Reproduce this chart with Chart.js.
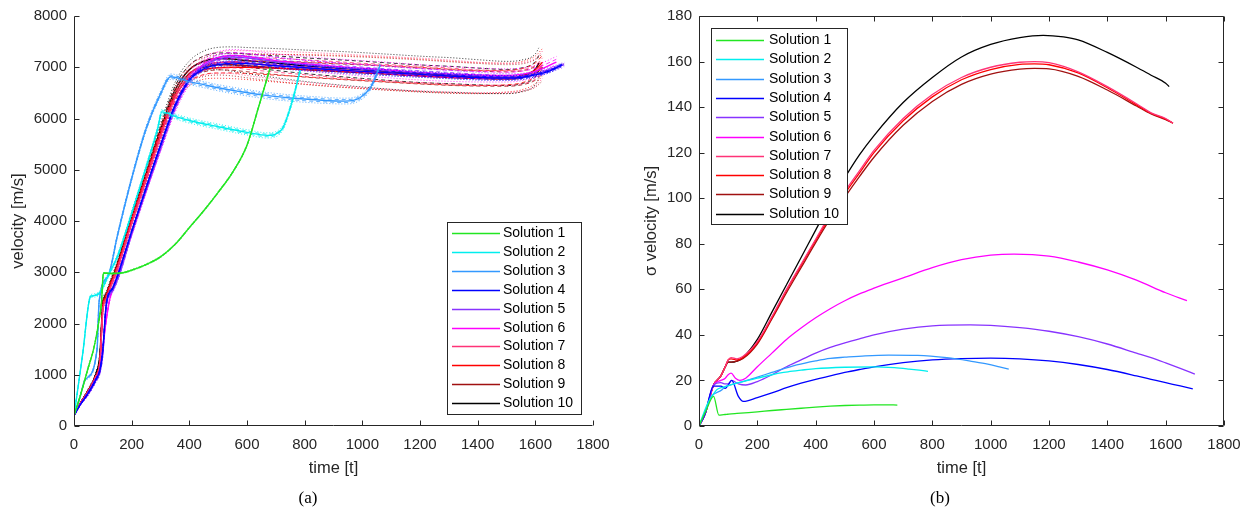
<!DOCTYPE html>
<html>
<head>
<meta charset="utf-8">
<script src="https://cdn.jsdelivr.net/npm/chart.js@4"></script>
<style>
body{margin:0;background:#fff;width:1253px;height:512px;position:relative;overflow:hidden}
canvas{position:absolute;top:0}
#cA{left:0}
#cB{left:620px}
.cap{position:absolute;top:488px;font:17px "Liberation Serif",serif;color:#000;transform:translateX(-50%)}
</style>
</head>
<body>
<canvas id="cA" width="620" height="512"></canvas>
<canvas id="cB" width="633" height="512"></canvas>
<div class="cap" style="left:308px">(a)</div>
<div class="cap" style="left:940px">(b)</div>
<script>
// time grids, mean velocity [m/s] and sigma velocity [m/s] per solution
const t1 = [0, 25, 50, 68, 85, 95, 102, 130, 170, 200, 250, 300, 350, 400, 450, 500, 550, 600, 640, 680];
const v1 = [200, 650, 1150, 1500, 2000, 2400, 2985, 2975, 2990, 3040, 3150, 3300, 3540, 3870, 4200, 4560, 4950, 5480, 6220, 6980];
const s1 = [0, 7, 13, 4.8, 5.0, 5.1, 5.2, 5.5, 5.9, 6.2, 6.8, 7.3, 7.8, 8.3, 8.7, 9.0, 9.2, 9.3, 9.3, 9.2];

const t2 = [0, 30, 55, 62, 80, 95, 120, 150, 200, 250, 290, 305, 350, 400, 500, 600, 670, 720, 755, 785];
const v2 = [200, 1400, 2500, 2540, 2560, 2650, 2950, 3300, 4150, 5050, 5800, 6130, 6040, 5960, 5840, 5730, 5670, 5780, 6300, 6950];
const s2 = [0, 10, 15, 16, 17, 17.5, 18.5, 19.5, 21, 22.5, 23.5, 23.8, 24.5, 25.2, 25.8, 26, 25.6, 25, 24.5, 24];

const t3 = [0, 20, 38, 42, 80, 87, 120, 150, 200, 250, 300, 335, 400, 450, 500, 570, 650, 750, 850, 940, 990, 1030, 1062];
const v3 = [200, 550, 900, 920, 1500, 2420, 2950, 3700, 4830, 5800, 6480, 6815, 6720, 6660, 6600, 6530, 6460, 6400, 6360, 6340, 6400, 6620, 7040];
const s3 = [0, 6, 12, 13, 16, 17, 18.5, 19.5, 21.5, 23.5, 25.5, 26.8, 28.6, 29.7, 30.2, 30.8, 31.1, 31, 30, 28.3, 27.2, 26, 25];

const t4 = [0, 20, 50, 75, 90, 100, 112, 135, 152, 200, 250, 300, 350, 400, 450, 500, 550, 600, 700, 800, 900, 1000, 1100, 1200, 1300, 1400, 1500, 1550, 1600, 1650, 1693];
const v4 = [200, 400, 650, 900, 1100, 1500, 2380, 2700, 2950, 3800, 4650, 5480, 6250, 6750, 6970, 7050, 7080, 7070, 7030, 6990, 6950, 6920, 6890, 6860, 6830, 6800, 6790, 6800, 6850, 6930, 7050];
const s4 = [0, 5, 17.5, 17.5, 16.5, 18, 20, 13, 10.8, 12.5, 14.5, 16.8, 18.8, 20.5, 22, 23.5, 24.8, 26, 27.8, 29, 29.6, 29.8, 29.5, 28.6, 27, 24.8, 22, 20.5, 19, 17.6, 16.3];

const t5 = [0, 20, 50, 75, 90, 100, 112, 135, 160, 200, 250, 300, 350, 400, 450, 500, 550, 600, 700, 800, 930, 1000, 1100, 1200, 1300, 1400, 1500, 1550, 1600, 1650, 1700];
const v5 = [200, 400, 640, 880, 1050, 1400, 2350, 2650, 3000, 3750, 4600, 5420, 6200, 6750, 7030, 7160, 7200, 7180, 7110, 7050, 6990, 6960, 6920, 6890, 6860, 6830, 6810, 6820, 6870, 6950, 7050];
const s5 = [0, 5, 18, 19, 18.5, 18.5, 20, 18.5, 18, 19.5, 22.5, 26, 29, 32, 34.5, 36.5, 38.3, 40, 42.5, 44, 44.4, 44.2, 43.2, 41.6, 39.2, 36, 32, 30, 27.7, 25.3, 22.8];

const t6 = [0, 20, 50, 75, 90, 100, 110, 125, 140, 160, 200, 250, 300, 350, 400, 450, 500, 550, 600, 650, 700, 800, 900, 1000, 1080, 1200, 1300, 1400, 1500, 1600, 1673];
const v6 = [200, 400, 640, 900, 1100, 1500, 2000, 2500, 2750, 3080, 3750, 4600, 5420, 6200, 6750, 7060, 7190, 7230, 7210, 7170, 7130, 7070, 7020, 6980, 6950, 6900, 6870, 6850, 6840, 6920, 7100];
const s6 = [0, 5, 18, 20, 21, 22.5, 23.2, 21, 20, 21, 26, 32, 38, 43, 47.5, 51.5, 55, 58, 60.5, 62.8, 65, 69.5, 73, 75, 75.5, 74.6, 72, 68.5, 64, 58.5, 55];

const t7 = [0, 20, 50, 75, 90, 100, 110, 130, 150, 200, 250, 300, 350, 400, 450, 500, 550, 600, 700, 800, 900, 1000, 1100, 1150, 1200, 1300, 1400, 1500, 1550, 1600, 1625];
const v7 = [200, 420, 680, 950, 1250, 2250, 2450, 2750, 3050, 3950, 4800, 5650, 6400, 6850, 7030, 7090, 7100, 7080, 7040, 7000, 6960, 6920, 6890, 6870, 6860, 6830, 6800, 6790, 6810, 6900, 7050];
const s7 = [0, 5, 18, 22, 26, 29, 30, 29.5, 30.5, 37, 48, 60, 71, 82, 93, 103, 112, 121, 135, 145.5, 153, 157.5, 159.7, 160, 159.5, 155.5, 149, 141.5, 137.5, 135, 133];

const t8 = t7;
const v8 = [200, 420, 680, 950, 1250, 2300, 2500, 2800, 3100, 4000, 4850, 5700, 6420, 6800, 6950, 6990, 7000, 7000, 6980, 6960, 6930, 6900, 6870, 6855, 6840, 6810, 6790, 6800, 6830, 6950, 7100];
const s8 = [0, 5, 18, 22, 26, 29, 29.5, 29, 30, 36.5, 47.5, 59.5, 70.5, 81.5, 92, 102, 111, 120, 134, 144.5, 152, 156.5, 158.8, 159, 158.6, 155, 148.5, 141, 137.3, 134.7, 133];

const t9 = t7;
const v9 = [200, 420, 690, 970, 1300, 2350, 2520, 2820, 3120, 4030, 4880, 5720, 6480, 6880, 7000, 7050, 7050, 7030, 6990, 6950, 6920, 6890, 6860, 6845, 6830, 6800, 6780, 6770, 6790, 6880, 7000];
const s9 = [0, 5, 18, 22, 26, 28, 28, 28.5, 29.5, 36, 47, 58.5, 69.5, 80.5, 91, 100.5, 109.5, 118, 132, 142.5, 150, 154.5, 156.7, 157, 156.8, 153.5, 147.5, 140.5, 137, 134.5, 133];

const t10 = [0, 20, 50, 75, 90, 100, 110, 130, 150, 200, 250, 300, 350, 400, 450, 500, 550, 600, 700, 800, 900, 1000, 1100, 1180, 1250, 1300, 1400, 1500, 1550, 1600, 1612];
const v10 = [200, 430, 700, 1000, 1400, 2400, 2550, 2850, 3150, 4090, 4920, 5780, 6550, 6950, 7120, 7170, 7160, 7130, 7080, 7030, 6990, 6950, 6910, 6880, 6860, 6850, 6820, 6800, 6830, 6960, 7080];
const s10 = [0, 5, 18, 22, 26, 28, 28, 28.5, 30, 38, 50, 62, 74, 86, 98, 109, 119, 127.5, 142, 153, 162, 167.5, 170.5, 171.5, 170.8, 169.5, 164, 157.5, 154, 150.5, 149];

const names = ['Solution 1', 'Solution 2', 'Solution 3', 'Solution 4', 'Solution 5', 'Solution 6', 'Solution 7', 'Solution 8', 'Solution 9', 'Solution 10'];
const colors = ['#22e622', '#00eeee', '#3399ff', '#0000ff', '#8833ff', '#ff00ff', '#ff3377', '#ff0000', '#a01010', '#000000'];
const xTicksMax = 1800, xStep = 200;

const times = [t1, t2, t3, t4, t5, t6, t7, t8, t9, t10];
const vel = [v1, v2, v3, v4, v5, v6, v7, v8, v9, v10];
const sig = [s1, s2, s3, s4, s5, s6, s7, s8, s9, s10];

Chart.defaults.font.family = '"Liberation Sans", Arial, sans-serif';
Chart.defaults.color = '#262626';

// MATLAB style axes: inward ticks, optional full box
const mAxes = {
    id: 'mAxes',
    afterDatasetsDraw(chart, args, o) {
        const {ctx, chartArea: a} = chart;
        const sx = chart.scales.x, sy = chart.scales.y, L = 5;
        const l = Math.round(a.left) + 0.5, r = Math.round(a.right) - 0.5;
        const tp = Math.round(a.top) + 0.5, b = Math.round(a.bottom) - 0.5;
        ctx.save();
        ctx.strokeStyle = '#262626';
        ctx.lineWidth = 1;
        ctx.beginPath();
        ctx.moveTo(l, tp); ctx.lineTo(l, b); ctx.lineTo(r, b);
        if (o.box) { ctx.lineTo(r, tp); ctx.lineTo(l, tp); }
        sx.ticks.forEach(tk => {
            const px = Math.round(sx.getPixelForValue(tk.value)) + 0.5;
            ctx.moveTo(px, b); ctx.lineTo(px, b - L);
            if (o.box) { ctx.moveTo(px, tp); ctx.lineTo(px, tp + L); }
        });
        sy.ticks.forEach(tk => {
            const py = Math.round(sy.getPixelForValue(tk.value)) + 0.5;
            ctx.moveTo(l, py); ctx.lineTo(l + L, py);
            if (o.box) { ctx.moveTo(r, py); ctx.lineTo(r - L, py); }
        });
        ctx.stroke();
        ctx.restore();
    }
};

// legend box inside the plot area
const boxLegend = {
    id: 'boxLegend',
    afterDraw(chart, args, o) {
        const {ctx, chartArea: a} = chart;
        const items = chart.data.datasets.filter(d => d.label);
        const x0 = Math.round(o.corner === 'br' ? a.right - o.inset - o.w : a.left + o.inset);
        const y0 = Math.round(o.corner === 'br' ? a.bottom - o.inset - o.h : a.top + o.inset);
        ctx.save();
        ctx.fillStyle = '#fff';
        ctx.fillRect(x0, y0, o.w, o.h);
        ctx.strokeStyle = '#262626';
        ctx.lineWidth = 1;
        ctx.strokeRect(x0 + 0.5, y0 + 0.5, o.w, o.h);
        ctx.font = '14px "Liberation Sans", Arial, sans-serif';
        ctx.textBaseline = 'middle';
        items.forEach((d, i) => {
            const y = Math.round(y0 + o.first + i * o.rowH) + 0.5;
            ctx.strokeStyle = d.borderColor;
            ctx.lineWidth = 1.3;
            ctx.beginPath(); ctx.moveTo(x0 + 5, y); ctx.lineTo(x0 + 53, y); ctx.stroke();
            ctx.fillStyle = '#000';
            ctx.fillText(d.label, x0 + o.textX, y);
        });
        ctx.restore();
    }
};

function velSets() {
    const out = [];
    for (let i = 0; i < 10; i++) {
        const pts = k => times[i].map((t, j) => ({x: t, y: vel[i][j] + k * sig[i][j]}));
        const band = (k, dash) => ({label: '', data: pts(k), borderColor: colors[i], borderWidth: 0.8, borderDash: dash, pointRadius: 0, cubicInterpolationMode: 'monotone'});
        out.push(band(-2, [1, 2]), band(-1, [4, 3]));
        out.push({label: names[i], data: pts(0), borderColor: colors[i], borderWidth: 1.4, pointRadius: 0, cubicInterpolationMode: 'monotone'});
        out.push(band(1, [4, 3]), band(2, [1, 2]));
    }
    return out;
}

function sigSets() {
    return names.map((n, i) => ({
        label: n,
        data: times[i].map((t, j) => ({x: t, y: sig[i][j]})),
        borderColor: colors[i], borderWidth: 1.3, pointRadius: 0, cubicInterpolationMode: 'monotone'
    }));
}

function mkOpts(cfg) {
    return {
        responsive: false, animation: false,
        layout: {padding: cfg.pad},
        plugins: {legend: {display: false}, tooltip: {enabled: false}, mAxes: {box: cfg.box}, boxLegend: cfg.legend},
        scales: {
            x: {
                type: 'linear', min: 0, max: xTicksMax,
                grid: {display: false, drawTicks: false}, border: {display: false},
                ticks: {stepSize: xStep, padding: 10, font: {size: 15}, color: '#262626', callback: v => String(v)},
                title: {display: true, text: 'time [t]', font: {size: 16.5}, color: '#262626', padding: {top: 0, bottom: 3}},
                afterFit: s => { s.height = 55; }
            },
            y: {
                type: 'linear', min: cfg.yMin, max: cfg.yMax,
                grid: {display: false, drawTicks: false}, border: {display: false},
                ticks: {stepSize: cfg.yStep, padding: 7, font: {size: 15}, color: '#262626', callback: v => String(v)},
                title: {display: true, text: cfg.yTitle, font: {size: 16.5}, color: '#262626', padding: {top: cfg.titlePad, bottom: 0}},
                afterFit: s => { s.width = cfg.yWidth; }
            }
        }
    };
}

new Chart(document.getElementById('cA'), {
    type: 'line',
    data: {datasets: velSets()},
    options: mkOpts({
        pad: {left: 0, right: 27, top: 16, bottom: 31},
        box: false, yMin: 0, yMax: 8000, yStep: 1000, yTitle: 'velocity [m/s]', titlePad: 9, yWidth: 74,
        legend: {corner: 'br', inset: 12, w: 134, h: 192, first: 11, rowH: 18.9, textX: 56}
    }),
    plugins: [mAxes, boxLegend]
});

new Chart(document.getElementById('cB'), {
    type: 'line',
    data: {datasets: sigSets()},
    options: mkOpts({
        pad: {left: 0, right: 29, top: 11, bottom: 31},
        box: true, yMin: 0, yMax: 180, yStep: 20, yTitle: 'σ velocity [m/s]', titlePad: 22, yWidth: 79,
        legend: {corner: 'tl', inset: 12, w: 136, h: 196, first: 12, rowH: 19.3, textX: 58}
    }),
    plugins: [mAxes, boxLegend]
});
</script>
</body>
</html>
